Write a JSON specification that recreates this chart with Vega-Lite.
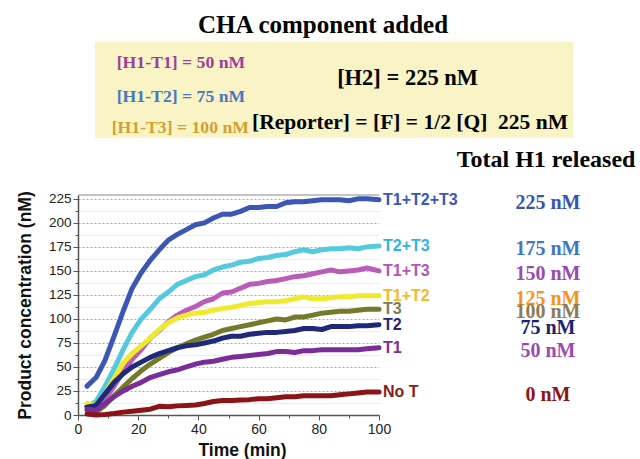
{
  "$schema": "https://vega.github.io/schema/vega-lite/v6.json",
  "width": 301,
  "height": 220,
  "autosize": {"type": "none"},
  "padding": {"left": 78, "top": 195, "right": 261, "bottom": 44},
  "background": "white",
  "config": {
    "view": {"stroke": null},
    "font": "Liberation Sans"
  },
  "datasets": {
    "totals": [
      {"s": "T1+T2+T3", "total": "225 nM"},
      {"s": "T2+T3", "total": "175 nM"},
      {"s": "T1+T3", "total": "150 nM"},
      {"s": "T1+T2", "total": "125 nM"},
      {"s": "T3", "total": "100 nM"},
      {"s": "T2", "total": "75 nM"},
      {"s": "T1", "total": "50 nM"},
      {"s": "No T", "total": "0 nM"}
    ],
    "series": [
      {"s":"T1+T2+T3","t":3,"c":30},{"s":"T1+T2+T3","t":6,"c":39},{"s":"T1+T2+T3","t":9,"c":57},{"s":"T1+T2+T3","t":12,"c":82},{"s":"T1+T2+T3","t":15,"c":108},{"s":"T1+T2+T3","t":18,"c":132},{"s":"T1+T2+T3","t":21,"c":148},{"s":"T1+T2+T3","t":24,"c":161},{"s":"T1+T2+T3","t":27,"c":172},{"s":"T1+T2+T3","t":30,"c":182},{"s":"T1+T2+T3","t":33,"c":188},{"s":"T1+T2+T3","t":36,"c":193},{"s":"T1+T2+T3","t":39,"c":198},{"s":"T1+T2+T3","t":42,"c":200},{"s":"T1+T2+T3","t":45,"c":205},{"s":"T1+T2+T3","t":48,"c":209},{"s":"T1+T2+T3","t":51,"c":209},{"s":"T1+T2+T3","t":54,"c":212},{"s":"T1+T2+T3","t":57,"c":216},{"s":"T1+T2+T3","t":60,"c":216},{"s":"T1+T2+T3","t":63,"c":217},{"s":"T1+T2+T3","t":66,"c":217},{"s":"T1+T2+T3","t":69,"c":221},{"s":"T1+T2+T3","t":72,"c":222},{"s":"T1+T2+T3","t":75,"c":222},{"s":"T1+T2+T3","t":78,"c":223},{"s":"T1+T2+T3","t":81,"c":224},{"s":"T1+T2+T3","t":84,"c":224},{"s":"T1+T2+T3","t":87,"c":224},{"s":"T1+T2+T3","t":90,"c":223},{"s":"T1+T2+T3","t":93,"c":225},{"s":"T1+T2+T3","t":96,"c":225},{"s":"T1+T2+T3","t":100,"c":224},
      {"s":"T2+T3","t":3,"c":9},{"s":"T2+T3","t":6,"c":14},{"s":"T2+T3","t":9,"c":30},{"s":"T2+T3","t":12,"c":48},{"s":"T2+T3","t":15,"c":68},{"s":"T2+T3","t":18,"c":86},{"s":"T2+T3","t":21,"c":100},{"s":"T2+T3","t":24,"c":110},{"s":"T2+T3","t":27,"c":121},{"s":"T2+T3","t":30,"c":128},{"s":"T2+T3","t":33,"c":136},{"s":"T2+T3","t":36,"c":140},{"s":"T2+T3","t":39,"c":144},{"s":"T2+T3","t":42,"c":146},{"s":"T2+T3","t":45,"c":151},{"s":"T2+T3","t":48,"c":154},{"s":"T2+T3","t":51,"c":156},{"s":"T2+T3","t":54,"c":159},{"s":"T2+T3","t":57,"c":160},{"s":"T2+T3","t":60,"c":163},{"s":"T2+T3","t":63,"c":164},{"s":"T2+T3","t":66,"c":166},{"s":"T2+T3","t":69,"c":167},{"s":"T2+T3","t":72,"c":170},{"s":"T2+T3","t":75,"c":172},{"s":"T2+T3","t":78,"c":170},{"s":"T2+T3","t":81,"c":172},{"s":"T2+T3","t":84,"c":173},{"s":"T2+T3","t":87,"c":173},{"s":"T2+T3","t":90,"c":174},{"s":"T2+T3","t":93,"c":173},{"s":"T2+T3","t":96,"c":175},{"s":"T2+T3","t":100,"c":176},
      {"s":"T1+T3","t":3,"c":10},{"s":"T1+T3","t":6,"c":6},{"s":"T1+T3","t":9,"c":16},{"s":"T1+T3","t":12,"c":30},{"s":"T1+T3","t":15,"c":45},{"s":"T1+T3","t":18,"c":58},{"s":"T1+T3","t":21,"c":68},{"s":"T1+T3","t":24,"c":80},{"s":"T1+T3","t":27,"c":88},{"s":"T1+T3","t":30,"c":97},{"s":"T1+T3","t":33,"c":104},{"s":"T1+T3","t":36,"c":109},{"s":"T1+T3","t":39,"c":113},{"s":"T1+T3","t":42,"c":118},{"s":"T1+T3","t":45,"c":121},{"s":"T1+T3","t":48,"c":127},{"s":"T1+T3","t":51,"c":128},{"s":"T1+T3","t":54,"c":132},{"s":"T1+T3","t":57,"c":136},{"s":"T1+T3","t":60,"c":137},{"s":"T1+T3","t":63,"c":139},{"s":"T1+T3","t":66,"c":140},{"s":"T1+T3","t":69,"c":142},{"s":"T1+T3","t":72,"c":144},{"s":"T1+T3","t":75,"c":145},{"s":"T1+T3","t":78,"c":147},{"s":"T1+T3","t":81,"c":149},{"s":"T1+T3","t":84,"c":151},{"s":"T1+T3","t":87,"c":149},{"s":"T1+T3","t":90,"c":150},{"s":"T1+T3","t":93,"c":151},{"s":"T1+T3","t":96,"c":153},{"s":"T1+T3","t":100,"c":150},
      {"s":"T1+T2","t":3,"c":12},{"s":"T1+T2","t":6,"c":10},{"s":"T1+T2","t":9,"c":22},{"s":"T1+T2","t":12,"c":38},{"s":"T1+T2","t":15,"c":54},{"s":"T1+T2","t":18,"c":64},{"s":"T1+T2","t":21,"c":72},{"s":"T1+T2","t":24,"c":80},{"s":"T1+T2","t":27,"c":89},{"s":"T1+T2","t":30,"c":96},{"s":"T1+T2","t":33,"c":101},{"s":"T1+T2","t":36,"c":104},{"s":"T1+T2","t":39,"c":106},{"s":"T1+T2","t":42,"c":107},{"s":"T1+T2","t":45,"c":109},{"s":"T1+T2","t":48,"c":111},{"s":"T1+T2","t":51,"c":112},{"s":"T1+T2","t":54,"c":114},{"s":"T1+T2","t":57,"c":116},{"s":"T1+T2","t":60,"c":117},{"s":"T1+T2","t":63,"c":118},{"s":"T1+T2","t":66,"c":118},{"s":"T1+T2","t":69,"c":119},{"s":"T1+T2","t":72,"c":121},{"s":"T1+T2","t":75,"c":123},{"s":"T1+T2","t":78,"c":121},{"s":"T1+T2","t":81,"c":121},{"s":"T1+T2","t":84,"c":122},{"s":"T1+T2","t":87,"c":123},{"s":"T1+T2","t":90,"c":123},{"s":"T1+T2","t":93,"c":124},{"s":"T1+T2","t":96,"c":124},{"s":"T1+T2","t":100,"c":124},
      {"s":"T3","t":3,"c":5},{"s":"T3","t":6,"c":3},{"s":"T3","t":9,"c":10},{"s":"T3","t":12,"c":20},{"s":"T3","t":15,"c":29},{"s":"T3","t":18,"c":38},{"s":"T3","t":21,"c":46},{"s":"T3","t":24,"c":53},{"s":"T3","t":27,"c":59},{"s":"T3","t":30,"c":65},{"s":"T3","t":33,"c":70},{"s":"T3","t":36,"c":74},{"s":"T3","t":39,"c":78},{"s":"T3","t":42,"c":81},{"s":"T3","t":45,"c":84},{"s":"T3","t":48,"c":88},{"s":"T3","t":51,"c":90},{"s":"T3","t":54,"c":92},{"s":"T3","t":57,"c":94},{"s":"T3","t":60,"c":96},{"s":"T3","t":63,"c":98},{"s":"T3","t":66,"c":100},{"s":"T3","t":69,"c":99},{"s":"T3","t":72,"c":102},{"s":"T3","t":75,"c":102},{"s":"T3","t":78,"c":104},{"s":"T3","t":81,"c":106},{"s":"T3","t":84,"c":107},{"s":"T3","t":87,"c":108},{"s":"T3","t":90,"c":108},{"s":"T3","t":93,"c":109},{"s":"T3","t":96,"c":110},{"s":"T3","t":100,"c":110},
      {"s":"T2","t":3,"c":8},{"s":"T2","t":6,"c":10},{"s":"T2","t":9,"c":22},{"s":"T2","t":12,"c":34},{"s":"T2","t":15,"c":43},{"s":"T2","t":18,"c":50},{"s":"T2","t":21,"c":55},{"s":"T2","t":24,"c":60},{"s":"T2","t":27,"c":64},{"s":"T2","t":30,"c":67},{"s":"T2","t":33,"c":70},{"s":"T2","t":36,"c":72},{"s":"T2","t":39,"c":73},{"s":"T2","t":42,"c":75},{"s":"T2","t":45,"c":77},{"s":"T2","t":48,"c":80},{"s":"T2","t":51,"c":82},{"s":"T2","t":54,"c":82},{"s":"T2","t":57,"c":84},{"s":"T2","t":60,"c":85},{"s":"T2","t":63,"c":86},{"s":"T2","t":66,"c":86},{"s":"T2","t":69,"c":87},{"s":"T2","t":72,"c":88},{"s":"T2","t":75,"c":90},{"s":"T2","t":78,"c":90},{"s":"T2","t":81,"c":89},{"s":"T2","t":84,"c":92},{"s":"T2","t":87,"c":92},{"s":"T2","t":90,"c":92},{"s":"T2","t":93,"c":93},{"s":"T2","t":96,"c":93},{"s":"T2","t":100,"c":94},
      {"s":"T1","t":3,"c":6},{"s":"T1","t":6,"c":5},{"s":"T1","t":9,"c":12},{"s":"T1","t":12,"c":19},{"s":"T1","t":15,"c":25},{"s":"T1","t":18,"c":30},{"s":"T1","t":21,"c":34},{"s":"T1","t":24,"c":39},{"s":"T1","t":27,"c":42},{"s":"T1","t":30,"c":45},{"s":"T1","t":33,"c":47},{"s":"T1","t":36,"c":50},{"s":"T1","t":39,"c":53},{"s":"T1","t":42,"c":55},{"s":"T1","t":45,"c":56},{"s":"T1","t":48,"c":58},{"s":"T1","t":51,"c":60},{"s":"T1","t":54,"c":61},{"s":"T1","t":57,"c":62},{"s":"T1","t":60,"c":63},{"s":"T1","t":63,"c":64},{"s":"T1","t":66,"c":66},{"s":"T1","t":69,"c":66},{"s":"T1","t":72,"c":65},{"s":"T1","t":75,"c":67},{"s":"T1","t":78,"c":67},{"s":"T1","t":81,"c":68},{"s":"T1","t":84,"c":68},{"s":"T1","t":87,"c":68},{"s":"T1","t":90,"c":68},{"s":"T1","t":93,"c":68},{"s":"T1","t":96,"c":69},{"s":"T1","t":100,"c":70},
      {"s":"No T","t":3,"c":1},{"s":"No T","t":6,"c":0},{"s":"No T","t":9,"c":0.5},{"s":"No T","t":12,"c":1.5},{"s":"No T","t":15,"c":3},{"s":"No T","t":18,"c":4},{"s":"No T","t":21,"c":5},{"s":"No T","t":24,"c":6},{"s":"No T","t":27,"c":9},{"s":"No T","t":30,"c":8.5},{"s":"No T","t":33,"c":9.5},{"s":"No T","t":36,"c":10},{"s":"No T","t":39,"c":10.5},{"s":"No T","t":42,"c":12},{"s":"No T","t":45,"c":14},{"s":"No T","t":48,"c":15},{"s":"No T","t":51,"c":15},{"s":"No T","t":54,"c":15.5},{"s":"No T","t":57,"c":16},{"s":"No T","t":60,"c":17},{"s":"No T","t":63,"c":17},{"s":"No T","t":66,"c":18},{"s":"No T","t":69,"c":19},{"s":"No T","t":72,"c":19},{"s":"No T","t":75,"c":20},{"s":"No T","t":78,"c":20},{"s":"No T","t":81,"c":20},{"s":"No T","t":84,"c":20},{"s":"No T","t":87,"c":21},{"s":"No T","t":90,"c":22},{"s":"No T","t":93,"c":23},{"s":"No T","t":96,"c":24},{"s":"No T","t":100,"c":24}
    ]
  },
  "data": {"name": "series"},
  "resolve": {"scale": {"color": "independent"}, "axis": {"x": "independent", "y": "independent"}},
  "layer": [
    {
      "data": {"values": [{"label": "minor"}]},
      "mark": {"type": "rule", "color": "#8a8a8a", "strokeWidth": 1},
      "encoding": {
        "y": {
          "datum": 229, "type": "quantitative",
          "scale": {"domain": [0, 229], "nice": false},
          "axis": {
            "orient": "left", "title": null, "labels": false, "domain": false,
            "values": [12.5, 37.5, 62.5, 87.5, 112.5, 137.5, 162.5, 187.5, 212.5],
            "tickSize": 3, "tickColor": "#555555",
            "grid": true, "gridColor": "#ececec", "gridWidth": 1
          }
        }
      }
    },
    {
      "data": {"values": [{"label": "box"}]},
      "mark": {"type": "rect", "fill": "#f8f4c6"},
      "encoding": {
        "x": {
          "datum": 5.65, "type": "quantitative",
          "scale": {"domain": [0, 100], "nice": false},
          "axis": {
            "orient": "bottom", "title": null, "labels": false, "domain": false,
            "values": [10, 30, 50, 70, 90],
            "tickSize": 3, "tickColor": "#555555", "grid": false
          }
        },
        "x2": {"datum": 164.5},
        "y": {"datum": 388.3, "type": "quantitative", "axis": null},
        "y2": {"datum": 288.3}
      }
    },
    {
      "mark": {"type": "line", "strokeWidth": 5, "strokeJoin": "round", "strokeCap": "round"},
      "encoding": {
        "x": {
          "field": "t", "type": "quantitative",
          "axis": {
            "orient": "bottom",
            "title": "Time (min)",
            "values": [0, 20, 40, 60, 80, 100],
            "labelOverlap": false,
            "labelFlush": false,
            "labelFont": "Liberation Sans", "labelFontSize": 14, "labelColor": "#222222",
            "labelPadding": 2,
            "tickSize": 5,
            "tickColor": "#555555", "domainColor": "#555555", "domainWidth": 1.5,
            "grid": false,
            "titleFont": "Liberation Sans", "titleFontSize": 17.5, "titleFontWeight": "bold", "titleColor": "#111111",
            "titlePadding": 5, "titleX": 164
          }
        },
        "y": {
          "field": "c", "type": "quantitative",
          "axis": {
            "orient": "left",
            "title": "Product concentration (nM)",
            "values": [0, 25, 50, 75, 100, 125, 150, 175, 200, 225],
            "labelOverlap": false,
            "labelFont": "Liberation Sans", "labelFontSize": 13.5, "labelColor": "#222222",
            "labelPadding": 2,
            "tickSize": 5,
            "tickColor": "#555555", "domainColor": "#555555", "domainWidth": 1.5,
            "grid": true,
            "gridColor": "#a8a8a8",
            "gridDash": [2, 2],
            "titleFont": "Liberation Sans", "titleFontSize": 17.5, "titleFontWeight": "bold", "titleColor": "#111111",
            "titlePadding": 14
          }
        },
        "color": {
          "field": "s", "type": "nominal", "legend": null,
          "scale": {
            "domain": ["T1+T2+T3", "T2+T3", "T1+T3", "T1+T2", "T3", "T2", "T1", "No T"],
            "range": ["#3b56b3", "#55c9dd", "#b95db8", "#f0ea2e", "#737a2a", "#20287a", "#7a2c98", "#8a1418"]
          }
        }
      }
    },
    {
      "transform": [
        {"joinaggregate": [{"op": "max", "field": "t", "as": "tmax"}], "groupby": ["s"]},
        {"filter": "datum.t === datum.tmax"}
      ],
      "mark": {"type": "text", "align": "left", "baseline": "middle", "dx": 4, "dy": 0, "font": "Liberation Sans", "fontSize": 16, "fontWeight": "bold"},
      "encoding": {
        "x": {"field": "t", "type": "quantitative", "axis": null},
        "y": {"field": "c", "type": "quantitative", "axis": null},
        "text": {"field": "s"},
        "color": {
          "field": "s", "type": "nominal", "legend": null,
          "scale": {
            "domain": ["T1+T2+T3", "T2+T3", "T1+T3", "T1+T2", "T3", "T2", "T1", "No T"],
            "range": ["#3b56b3", "#2fb5e0", "#b256b4", "#f9b826", "#7d7b58", "#1f2a75", "#7c2f98", "#8a1a1a"]
          }
        }
      }
    },
    {
      "transform": [
        {"joinaggregate": [{"op": "max", "field": "t", "as": "tmax"}], "groupby": ["s"]},
        {"filter": "datum.t === datum.tmax"},
        {"lookup": "s", "from": {"data": {"name": "totals"}, "key": "s", "fields": ["total"]}}
      ],
      "mark": {"type": "text", "align": "center", "baseline": "middle", "dx": 169, "dy": 3, "font": "Liberation Serif", "fontSize": 20, "fontWeight": "bold"},
      "encoding": {
        "x": {"field": "t", "type": "quantitative", "axis": null},
        "y": {"field": "c", "type": "quantitative", "axis": null},
        "text": {"field": "total"},
        "color": {
          "field": "s", "type": "nominal", "legend": null,
          "scale": {
            "domain": ["T1+T2+T3", "T2+T3", "T1+T3", "T1+T2", "T3", "T2", "T1", "No T"],
            "range": ["#3a55b0", "#3f78c0", "#9b4ab0", "#f7931e", "#8c7b55", "#1a2570", "#9a4cb0", "#8b1515"]
          }
        }
      }
    },
    {
      "data": {"values": [{"label": "CHA component added"}]},
      "mark": {"type": "text", "align": "center", "baseline": "middle", "font": "Liberation Serif", "fontSize": 25, "fontWeight": "bold", "color": "#000000"},
      "encoding": {"x": {"datum": 81.4, "type": "quantitative", "axis": null}, "y": {"datum": 406, "type": "quantitative", "axis": null}, "text": {"field": "label"}}
    },
    {
      "data": {"values": [{"label": "[H1-T1] = 50 nM"}]},
      "mark": {"type": "text", "align": "center", "baseline": "middle", "font": "Liberation Serif", "fontSize": 17.7, "fontWeight": "bold", "color": "#9c3f9c"},
      "encoding": {"x": {"datum": 34.2, "type": "quantitative", "axis": null}, "y": {"datum": 366.4, "type": "quantitative", "axis": null}, "text": {"field": "label"}}
    },
    {
      "data": {"values": [{"label": "[H1-T2] = 75 nM"}]},
      "mark": {"type": "text", "align": "center", "baseline": "middle", "font": "Liberation Serif", "fontSize": 17.7, "fontWeight": "bold", "color": "#4a78c0"},
      "encoding": {"x": {"datum": 34.2, "type": "quantitative", "axis": null}, "y": {"datum": 331, "type": "quantitative", "axis": null}, "text": {"field": "label"}}
    },
    {
      "data": {"values": [{"label": "[H1-T3] = 100 nM"}]},
      "mark": {"type": "text", "align": "center", "baseline": "middle", "font": "Liberation Serif", "fontSize": 17.7, "fontWeight": "bold", "color": "#d4a030"},
      "encoding": {"x": {"datum": 34, "type": "quantitative", "axis": null}, "y": {"datum": 298.7, "type": "quantitative", "axis": null}, "text": {"field": "label"}}
    },
    {
      "data": {"values": [{"label": "[H2] = 225 nM"}]},
      "mark": {"type": "text", "align": "center", "baseline": "middle", "font": "Liberation Serif", "fontSize": 22.5, "fontWeight": "bold", "color": "#000000"},
      "encoding": {"x": {"datum": 109.5, "type": "quantitative", "axis": null}, "y": {"datum": 350.8, "type": "quantitative", "axis": null}, "text": {"field": "label"}}
    },
    {
      "data": {"values": [{"label": "[Reporter] = [F] = 1/2 [Q] \u00a0225 nM"}]},
      "mark": {"type": "text", "align": "center", "baseline": "middle", "font": "Liberation Serif", "fontSize": 21.5, "fontWeight": "bold", "color": "#000000"},
      "encoding": {"x": {"datum": 110.3, "type": "quantitative", "axis": null}, "y": {"datum": 304, "type": "quantitative", "axis": null}, "text": {"field": "label"}}
    },
    {
      "data": {"values": [{"label": "Total H1 released"}]},
      "mark": {"type": "text", "align": "center", "baseline": "middle", "font": "Liberation Serif", "fontSize": 24, "fontWeight": "bold", "color": "#000000"},
      "encoding": {"x": {"datum": 155.5, "type": "quantitative", "axis": null}, "y": {"datum": 265.4, "type": "quantitative", "axis": null}, "text": {"field": "label"}}
    }
  ]
}
